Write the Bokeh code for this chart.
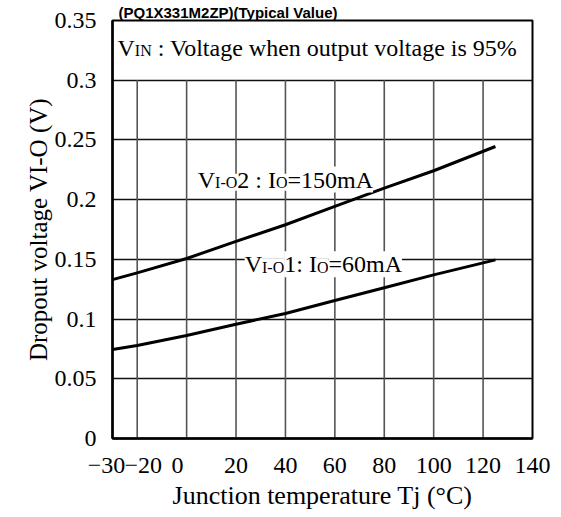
from bokeh.plotting import figure
from bokeh.models import Range1d, FixedTicker, Label, CustomJSTickFormatter
from bokeh.embed import file_html
from bokeh.resources import INLINE

# ---- data ----
temps = [-30, -20, 0, 20, 40, 60, 80, 100, 125]
vio2_150mA = [0.133, 0.1387, 0.1507, 0.165, 0.179, 0.1944, 0.2097, 0.2242, 0.2445]
vio1_60mA = [0.0746, 0.0779, 0.0863, 0.0957, 0.1047, 0.1155, 0.1262, 0.137, 0.1496]

x_ticks = [-30, -20, 0, 20, 40, 60, 80, 100, 120, 140]
x_tick_labels = ["\u221230", "\u221220", "0", "20", "40", "60", "80", "100", "120", "140"]
y_ticks = [0, 0.05, 0.1, 0.15, 0.2, 0.25, 0.3, 0.35]
y_tick_labels = ["0", "0.05", "0.1", "0.15", "0.2", "0.25", "0.3", "0.35"]

title_text = "(PQ1X331M2ZP)(Typical Value)"
x_title = "Junction temperature Tj (\u00b0C)"
y_title = "Dropout voltage VI-O (V)"

# layout nudges for the crowded x tick labels (px, negative = left)
x_label_nudge = [-7, 6, -10, 0, 0, 0, 0, 0, 0, 0]

SERIF = "Liberation Serif"
BIG = 24
SMALL = 16
NBSP_PX = 0.25 * BIG  # advance of a no-break space

# Times-compatible advance widths (1/1000 em)
W = {' ': 250, '!': 333, '%': 833, '(': 333, ')': 333, '-': 333, '.': 250, ':': 278,
     '=': 564, '\u00b0': 400, '\u2212': 564,
     'A': 722, 'C': 667, 'D': 722, 'E': 611, 'I': 333, 'J': 389, 'N': 722, 'O': 722,
     'T': 611, 'V': 722,
     'a': 444, 'c': 444, 'e': 444, 'g': 500, 'h': 500, 'i': 278, 'j': 278, 'l': 278,
     'm': 778, 'n': 500, 'o': 500, 'p': 500, 'r': 333, 's': 389, 't': 278, 'u': 500,
     'v': 500, 'w': 722, 'y': 500}
for d in "0123456789":
    W[d] = 500


def tw(s, size):
    return sum(W.get(c, 500) for c in s) / 1000.0 * size


p = figure(width=561, height=517, x_range=Range1d(-30, 140), y_range=Range1d(0, 0.35),
           output_backend="svg", toolbar_location=None,
           min_border_left=112, min_border_right=29, min_border_top=20, min_border_bottom=79)
p.background_fill_color = "white"
p.border_fill_color = "white"
p.outline_line_color = "black"
p.outline_line_width = 2

# chart title (only partly visible in the reference): kept small so the frame stays put
p.title.text = title_text
p.title.text_font = "Liberation Sans"
p.title.text_font_style = "bold"
p.title.text_font_size = "15px"
p.title.text_color = "black"
p.title.align = "left"
p.title.offset = 6
p.title.standoff = 0

p.xgrid.visible = False
p.ygrid.ticker = FixedTicker(ticks=y_ticks)
p.ygrid.grid_line_color = "#111111"
p.ygrid.grid_line_width = 1.4

fmt_code = """
const i = tvals.findIndex(t => Math.abs(t - tick) < 1e-9);
return i >= 0 ? labs[i] : '';
"""

# x tick labels, padded with no-break spaces to nudge the crowded ones
x_labels_padded = []
for lbl, n in zip(x_tick_labels, x_label_nudge):
    pad = "\u00a0" * int(round(2 * abs(n) / NBSP_PX))
    x_labels_padded.append(pad + lbl if n > 0 else lbl + pad)

p.yaxis.ticker = FixedTicker(ticks=y_ticks)
p.yaxis.formatter = CustomJSTickFormatter(args=dict(tvals=y_ticks, labs=y_tick_labels), code=fmt_code)
p.xaxis.ticker = FixedTicker(ticks=x_ticks)
p.xaxis.formatter = CustomJSTickFormatter(args=dict(tvals=x_ticks, labs=x_labels_padded), code=fmt_code)

p.yaxis.axis_label = y_title
p.xaxis.axis_label = x_title
for ax in list(p.xaxis) + list(p.yaxis):
    ax.axis_line_color = "black"
    ax.axis_line_width = 2.5
    ax.major_tick_line_color = None
    ax.minor_tick_line_color = None
    ax.major_tick_out = 0
    ax.major_tick_in = 0
    ax.minor_tick_out = 0
    ax.minor_tick_in = 0
    ax.major_label_text_font = SERIF
    ax.major_label_text_font_size = f"{BIG}px"
    ax.major_label_text_color = "black"
    ax.axis_label_text_font = SERIF
    ax.axis_label_text_font_style = "normal"
    ax.axis_label_text_color = "black"
p.yaxis.axis_label_text_font_size = "25px"
p.xaxis.axis_label_text_font_size = "26px"
p.yaxis.major_label_standoff = 16
p.yaxis.axis_label_standoff = 0
p.xaxis.major_label_standoff = 13
p.xaxis.axis_label_standoff = 0

# vertical grid lines stop at the 0.3 line (box for the note above)
grid_x = x_ticks[1:-1]
p.segment(x0=grid_x, y0=[y_ticks[0]] * len(grid_x), x1=grid_x, y1=[y_ticks[-2]] * len(grid_x),
          line_color="#555555", line_width=1.6)

p.line(temps, vio2_150mA, line_color="black", line_width=3, line_join="round")
p.line(temps, vio1_60mA, line_color="black", line_width=3, line_join="round")

MID = 0.34  # baseline sits this many em below a 'middle' anchor


def add_label(size, y_offset=0.0, **kw):
    lab = Label(level="overlay", text_color="black", text_font_size=f"{size}px",
                text_baseline="middle", y_offset=y_offset + MID * size, **kw)
    p.add_layout(lab)
    return lab


def rich(parts, x, y, xo, yo, bg=None):
    off = 0.0
    for t, s, gap in parts:
        off += tw(" ", s) * gap
        lab = add_label(s, y_offset=yo, x=x, y=y, x_offset=xo + off, text=t,
                        text_font=SERIF, text_align="left")
        if bg:
            lab.background_fill_color = bg
        off += tw(t, s)


# note in the top box
rich([("V", BIG, 0), ("IN", SMALL, 0), (": Voltage when output voltage is 95%", BIG, 1)],
     -30, 0.35, 5, -35.4)

# curve labels
rich([("V", BIG, 0), ("I-O", SMALL, 0), ("2 : I", BIG, 0), ("O", SMALL, 0), ("=150mA", BIG, 0)],
     4.5, 0.21, 0, 0, bg="white")
rich([("V", BIG, 0), ("I-O", SMALL, 0), ("1: I", BIG, 0), ("O", SMALL, 0), ("=60mA", BIG, 0)],
     23.5, 0.139, 0, 0, bg="white")

open("out.html", "w").write(file_html(p, INLINE))
